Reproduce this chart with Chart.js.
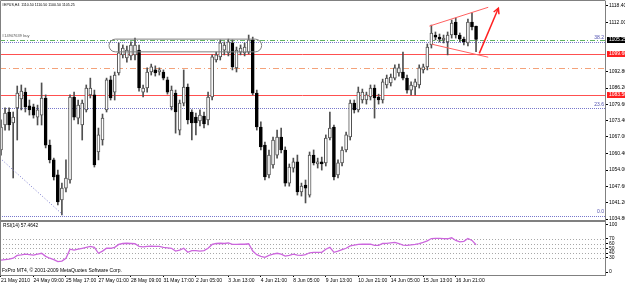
<!DOCTYPE html>
<html lang="en">
<head>
<meta charset="UTF-8">
<title>#EPUS,H4</title>
<script src="https://cdn.jsdelivr.net/npm/chart.js"></script>
<style>
  html, body { margin: 0; padding: 0; background: #fff; }
  #wrap { position: relative; width: 625px; height: 284px; overflow: hidden; background: #fff; }
  #priceChart { position: absolute; left: 0; top: 0; }
  #rsiChart { position: absolute; left: 0; top: 222px; }
</style>
</head>
<body>
<div id="wrap">
  <canvas id="priceChart" width="625" height="222"></canvas>
  <canvas id="rsiChart" width="625" height="62"></canvas>
</div>
<script>
// H4 bars, 21 May 2010 01:00 .. 17 Jun 2010
const opens = [1061.9,1071.7,1076.8,1072.5,1078.4,1081.9,1084.6,1079.2,1078.8,1074.8,
  1075.6,1082.3,1063.8,1058.0,1052.1,1042.3,1046.9,1050.1,1082.7,1074.4,
  1071.7,1077.6,1083.5,1083.5,1061.1,1065.8,1077.6,1089.4,1084.6,1092.1,
  1099.2,1098.0,1098.8,1099.2,1101.1,1084.6,1086.2,1092.5,1093.3,1092.5,
  1092.5,1089.4,1078.8,1084.2,1069.7,1080.3,1086.6,1076.8,1074.8,1073.3,
  1075.2,1073.7,1082.7,1097.2,1098.4,1101.1,1100.0,1103.9,1094.1,1100.3,
  1100.0,1100.3,1105.1,1084.2,1070.9,1063.8,1052.1,1056.0,1059.9,1067.0,
  1061.9,1048.9,1054.8,1057.2,1045.4,1048.1,1044.2,1059.9,1056.4,1057.2,
  1056.8,1066.6,1070.9,1052.1,1056.8,1061.9,1067.0,1080.3,1077.6,1081.5,
  1081.5,1082.7,1086.2,1082.7,1081.5,1087.4,1088.2,1090.1,1092.1,1092.5,
  1090.1,1085.4,1086.6,1087.4,1093.3,1094.5,1103.1,1107.0,1106.2,1105.1,
  1104.3,1107.0,1112.1,1107.0,1105.4,1103.9,1112.1,1110.5];
const highs = [1073.7,1078.4,1078.4,1076.8,1087.0,1087.4,1086.2,1081.5,1079.9,1079.5,
  1088.2,1083.5,1065.8,1058.7,1054.0,1048.9,1058.0,1083.5,1084.6,1081.5,
  1081.5,1087.4,1090.1,1085.4,1070.5,1076.0,1090.1,1090.9,1092.5,1103.9,
  1103.1,1102.7,1104.3,1105.8,1103.1,1087.4,1094.1,1095.6,1094.9,1094.1,
  1093.3,1090.5,1087.0,1085.4,1081.5,1093.3,1087.8,1077.6,1076.4,1077.6,
  1076.8,1084.6,1099.2,1100.3,1105.1,1104.3,1105.4,1105.1,1102.3,1103.1,
  1103.9,1107.0,1106.2,1085.4,1072.9,1065.0,1061.9,1067.0,1069.7,1070.5,
  1063.1,1056.4,1058.7,1059.9,1048.9,1050.1,1061.1,1061.9,1058.7,1059.1,
  1067.8,1076.8,1071.7,1058.0,1063.1,1068.9,1081.5,1081.5,1086.6,1085.8,
  1084.6,1087.4,1087.4,1083.8,1089.7,1091.3,1091.7,1095.3,1095.6,1100.3,
  1091.3,1088.6,1089.7,1095.3,1095.6,1103.5,1110.9,1108.2,1107.4,1107.0,
  1108.2,1112.9,1113.7,1107.8,1106.2,1113.3,1115.7,1110.5];
const lows = [1059.9,1069.7,1069.7,1050.9,1065.8,1077.6,1076.8,1075.6,1074.4,1071.7,
  1071.7,1062.7,1056.8,1050.1,1040.3,1036.4,1045.4,1048.9,1073.7,1072.1,
  1065.8,1076.8,1082.3,1055.2,1058.0,1063.8,1076.8,1081.5,1081.5,1091.3,
  1098.0,1096.4,1097.2,1097.2,1085.0,1082.7,1084.6,1091.3,1090.9,1091.3,
  1089.4,1083.8,1077.6,1068.5,1067.8,1079.2,1072.1,1065.8,1067.8,1071.3,
  1070.5,1071.7,1081.5,1096.4,1097.2,1099.2,1098.8,1093.3,1092.5,1099.2,
  1098.8,1099.6,1083.5,1069.7,1061.9,1050.1,1050.9,1054.8,1058.7,1060.7,
  1047.7,1047.7,1053.2,1044.2,1043.8,1041.1,1043.4,1056.0,1054.8,1054.0,
  1055.6,1065.8,1050.1,1050.9,1055.6,1061.1,1065.8,1076.4,1076.8,1080.3,
  1079.9,1081.5,1074.4,1079.9,1080.3,1086.2,1087.0,1089.4,1090.9,1089.4,
  1084.2,1083.5,1083.5,1086.2,1092.1,1093.3,1101.9,1105.1,1104.3,1103.9,
  1099.2,1105.8,1105.8,1104.3,1103.1,1102.7,1109.0,1100.5];
const closes = [1070.9,1076.4,1071.7,1074.8,1084.2,1085.0,1078.8,1077.6,1075.6,1077.6,
  1082.3,1063.8,1058.0,1051.3,1041.5,1046.9,1050.9,1082.7,1074.8,1079.5,
  1080.3,1086.2,1086.2,1056.0,1067.8,1074.4,1089.4,1082.3,1091.3,1100.0,
  1101.9,1101.1,1103.1,1103.1,1086.2,1086.2,1092.5,1094.5,1092.1,1093.3,
  1090.1,1084.6,1085.4,1076.8,1080.3,1086.6,1073.7,1072.5,1072.5,1075.6,
  1072.1,1082.7,1098.4,1099.2,1103.9,1103.1,1104.3,1094.5,1101.1,1101.9,
  1102.3,1105.1,1084.2,1070.9,1063.1,1051.3,1059.9,1065.8,1067.0,1061.9,
  1048.9,1055.2,1057.2,1045.4,1047.7,1046.9,1059.9,1056.8,1057.2,1056.4,
  1066.6,1070.5,1051.3,1056.8,1061.9,1067.8,1080.3,1077.6,1084.6,1084.6,
  1083.5,1086.2,1082.3,1081.5,1088.6,1090.1,1090.5,1094.1,1094.1,1090.1,
  1085.4,1087.4,1088.6,1094.1,1094.5,1102.3,1107.8,1106.2,1105.4,1105.8,
  1107.0,1111.7,1107.0,1105.4,1104.3,1112.1,1110.2,1105.25];
const rsi = [25,26,27,29,35,36,37.5,36.5,35.5,37.5,
  39.5,33,29,26,22,23,29,48,46,48,
  50,52,54,52,39.5,44,50,50,52,58,
  60,60.5,60,59.5,54,53,54,54.5,54,54,
  52,51,50,44,46,50,41.5,45,45,44,
  45,50,58,60,60.5,60,61.5,58,58,58.5,
  58.5,59.5,44,36.5,33,31,35,37.5,39.5,37.5,
  33.5,35,37.5,35.5,35,36.5,40.5,41.5,41.5,41.5,
  48,52,41.5,44,47,50,55,56.5,58,58.5,
  58.5,58.5,56,56,60,60.5,61.5,62.5,60,56.5,
  56,57,58,60,62.5,65.5,70.5,71,71,70.5,
  70,72,66.5,63.5,64.5,70.5,66.5,57.4642];

const tickBars = [0,8,16,24,32,40,48,56,64,72,80,88,96,104,112];
const tickLabels = ['21 May 2010','24 May 09:00','25 May 17:00','27 May 01:00','28 May 09:00',
  '31 May 17:00','2 Jun 05:00','3 Jun 13:00','4 Jun 21:00','8 Jun 05:00','9 Jun 13:00',
  '10 Jun 21:00','14 Jun 05:00','15 Jun 13:00','16 Jun 21:00'];
const priceTicks = [1118.40,1112.00,1092.80,1086.20,1079.60,1073.40,1067.00,1060.40,1054.00,1047.60,1041.20,1034.80];
const rsiTicks = [0,30,40,50,60,70,100];
const rsiLevels = [30,40,50,60,70];

// objects on the chart (prices)
const lastPrice = 1105.25;
const buyPrice = 1104.9;
const redLevels = [1099.60, 1083.50];
const orangeLevel = 1094.2;
const fibo = [[0.0, 1036.0], [23.6, 1078.2], [38.2, 1104.3]];
const boxBars = [26.6, 64.2], boxPrices = [1105.4, 1100.4];
const trend = [[-0.25, 1058.7], [15.3, 1036.4]];
const flagTop = [[105.5, 1110.5], [120.0, 1117.9]];
const flagBottom = [[106.1, 1103.4], [120.0, 1098.3]];
const arrowPts = [[117.8, 1099.8], [122.5, 1117.5]];

const xMin = -0.246, xMax = 148.76;
const priceMin = 1034.41, priceMax = 1120.36;

Chart.defaults.font.family = "'Liberation Sans', Arial, sans-serif";
Chart.defaults.color = '#000';

const bull = opens.map((o, i) => closes[i] >= o);

function txt(ctx, s, x, y, size, color, align) {
  ctx.save();
  ctx.font = size + "px 'Liberation Sans', Arial, sans-serif";
  ctx.fillStyle = color;
  ctx.textAlign = align || 'left';
  ctx.textBaseline = 'middle';
  ctx.fillText(s, x, y);
  ctx.restore();
}

function seg(ctx, x1, y1, x2, y2, color, width, dash) {
  ctx.save();
  ctx.strokeStyle = color;
  ctx.lineWidth = width;
  ctx.setLineDash(dash || []);
  ctx.beginPath();
  ctx.moveTo(x1, y1);
  ctx.lineTo(x2, y2);
  ctx.stroke();
  ctx.restore();
}

const priceOverlay = {
  id: 'priceOverlay',
  beforeDatasetsDraw(chart) {
    const ctx = chart.ctx, { left, right } = chart.chartArea;
    const Y = v => Math.round(chart.scales.y.getPixelForValue(v)) + 0.5;
    seg(ctx, left, Y(buyPrice), right, Y(buyPrice), '#5fb35f', 1, [5, 2, 1, 2]);
    fibo.forEach(f => seg(ctx, left, Y(f[1]), right, Y(f[1]), '#7777cc', 1, [1, 1]));
    redLevels.forEach(p => seg(ctx, left, Y(p), right, Y(p), '#ff5050', 1));
    seg(ctx, left, Y(orangeLevel), right, Y(orangeLevel), '#f4a27a', 1, [6, 3, 1, 3]);
  },
  afterDatasetsDraw(chart) {
    const ctx = chart.ctx;
    const X = v => chart.scales.x.getPixelForValue(v);
    const Y = v => chart.scales.y.getPixelForValue(v);
    // rounded box around the top zone
    const xl = X(boxBars[0]), xr = X(boxBars[1]), yt = Y(boxPrices[0]), yb = Y(boxPrices[1]);
    const r = (yb - yt) / 2;
    ctx.save();
    ctx.strokeStyle = '#808080';
    ctx.lineWidth = 1;
    ctx.beginPath();
    ctx.moveTo(xl + r, yt);
    ctx.lineTo(xr - r, yt);
    ctx.arc(xr - r, yt + r, r, -Math.PI / 2, Math.PI / 2);
    ctx.lineTo(xl + r, yb);
    ctx.arc(xl + r, yt + r, r, Math.PI / 2, Math.PI * 1.5);
    ctx.stroke();
    ctx.restore();
    // trend line to the low
    seg(ctx, X(trend[0][0]), Y(trend[0][1]), X(trend[1][0]), Y(trend[1][1]), '#7777cc', 1, [1, 2]);
    // flag
    seg(ctx, X(flagTop[0][0]), Y(flagTop[0][1]), X(flagTop[1][0]), Y(flagTop[1][1]), '#ff6060', 1);
    seg(ctx, X(flagBottom[0][0]), Y(flagBottom[0][1]), X(flagBottom[1][0]), Y(flagBottom[1][1]), '#ff6060', 1);
    // arrow
    const x1 = X(arrowPts[0][0]), y1 = Y(arrowPts[0][1]), x2 = X(arrowPts[1][0]), y2 = Y(arrowPts[1][1]);
    seg(ctx, x1, y1, x2, y2, '#ff2020', 1.5);
    const a = Math.atan2(y2 - y1, x2 - x1), L = 6;
    ctx.save();
    ctx.strokeStyle = '#ff2020';
    ctx.lineWidth = 1.5;
    ctx.beginPath();
    ctx.moveTo(x2 - L * Math.cos(a - 0.5), y2 - L * Math.sin(a - 0.5));
    ctx.lineTo(x2, y2);
    ctx.lineTo(x2 - L * Math.cos(a + 0.5), y2 - L * Math.sin(a + 0.5));
    ctx.stroke();
    ctx.restore();
    // texts
    txt(ctx, '#14907639 buy', 2, Y(buyPrice) - 4.5, 4, '#555');
    fibo.forEach(f => txt(ctx, f[0].toFixed(1), chart.chartArea.right - 1, Y(f[1]) - 4, 5, '#5050b0', 'right'));
    txt(ctx, '#EPUS,H4  1110.50 1110.50 1100.50 1105.25', 2, 5, 3.6, '#000');
  },
  afterDraw(chart) {
    const ctx = chart.ctx, { left, right, top, bottom } = chart.chartArea;
    const Y = v => chart.scales.y.getPixelForValue(v);
    ctx.save();
    ctx.strokeStyle = '#808080';
    ctx.lineWidth = 1;
    ctx.beginPath();
    ctx.moveTo(left + 0.5, bottom);
    ctx.lineTo(left + 0.5, 0.5);
    ctx.lineTo(right + 0.5, 0.5);
    ctx.stroke();
    ctx.fillStyle = '#808080';
    ctx.fillRect(left, bottom, right - left + 1, 2);
    // price boxes
    const boxes = [[lastPrice, '#000000'], [redLevels[0], '#ff2020'], [redLevels[1], '#ff2020']];
    boxes.forEach(b => {
      const y = Y(b[0]);
      ctx.fillStyle = b[1];
      ctx.fillRect(right + 2, Math.round(y) - 3, 20, 6);
      txt(ctx, b[0].toFixed(2), right + 4, y, 5, '#fff');
    });
    ctx.restore();
  }
};

new Chart(document.getElementById('priceChart'), {
  type: 'bar',
  data: {
    datasets: [{
      label: 'body',
      data: opens.map((o, i) => ({ x: i, y: [o, closes[i]] })),
      backgroundColor: bull.map(b => b ? '#ffffff' : '#000000'),
      borderColor: bull.map(b => b ? '#505050' : '#000000'),
      borderWidth: 1,
      borderSkipped: false,
      barThickness: 3,
      minBarLength: 1,
      grouped: false,
      order: 0
    }, {
      label: 'wick',
      data: lows.map((l, i) => ({ x: i, y: [l, highs[i]] })),
      backgroundColor: '#505050',
      barThickness: 1,
      grouped: false,
      order: 1
    }]
  },
  options: {
    responsive: false,
    animation: false,
    devicePixelRatio: 1,
    layout: { padding: { left: 0, right: 0, top: 1, bottom: 2 } },
    plugins: { legend: { display: false }, tooltip: { enabled: false } },
    scales: {
      x: { type: 'linear', display: false, min: xMin, max: xMax, offset: false },
      y: {
        position: 'right',
        min: priceMin,
        max: priceMax,
        afterFit: s => { s.width = 20; s.paddingTop = 0; s.paddingBottom = 0; },
        afterBuildTicks: s => { s.ticks = priceTicks.map(v => ({ value: v })); },
        grid: { drawOnChartArea: false, tickLength: 3, color: '#000' },
        border: { color: '#808080' },
        ticks: { font: { size: 5 }, padding: 1, autoSkip: false, callback: v => v.toFixed(2) }
      }
    }
  },
  plugins: [priceOverlay]
});

const rsiOverlay = {
  id: 'rsiOverlay',
  beforeDatasetsDraw(chart) {
    const ctx = chart.ctx, { left, right } = chart.chartArea;
    rsiLevels.forEach(l => {
      const y = Math.round(chart.scales.y.getPixelForValue(l)) + 0.5;
      seg(ctx, left, y, right, y, '#a8a8a8', 1, [1, 2]);
    });
  },
  afterDraw(chart) {
    const ctx = chart.ctx, { left, right, top, bottom } = chart.chartArea;
    seg(ctx, left + 0.5, top, left + 0.5, bottom, '#808080', 1);
    txt(ctx, 'RSI(14) ' + rsi[rsi.length - 1].toFixed(4), 3, 4, 4.8, '#000');
    txt(ctx, 'FxPro MT4, \u00a9 2001-2009 MetaQuotes Software Corp.', 2, bottom - 4, 5, '#000');
  }
};

new Chart(document.getElementById('rsiChart'), {
  type: 'line',
  data: {
    datasets: [{
      label: 'RSI(14)',
      data: rsi.map((v, i) => ({ x: i, y: v })),
      borderColor: '#cc66dd',
      borderWidth: 1.3,
      pointRadius: 0,
      tension: 0
    }]
  },
  options: {
    responsive: false,
    animation: false,
    devicePixelRatio: 1,
    layout: { padding: 0 },
    plugins: { legend: { display: false }, tooltip: { enabled: false } },
    scales: {
      x: {
        type: 'linear',
        min: xMin,
        max: xMax,
        offset: false,
        afterFit: s => { s.height = 9; s.paddingLeft = 0; s.paddingRight = 0; },
        afterBuildTicks: s => { s.ticks = tickBars.map(v => ({ value: v })); },
        grid: { drawOnChartArea: false, tickLength: 2, color: '#000' },
        border: { color: '#808080' },
        ticks: {
          align: 'start', maxRotation: 0, autoSkip: false, padding: 1,
          font: { size: 5 },
          callback: (v, i) => tickLabels[i]
        }
      },
      y: {
        position: 'right',
        min: -6.3,
        max: 105.3,
        afterFit: s => { s.width = 20; s.paddingTop = 0; s.paddingBottom = 0; },
        afterBuildTicks: s => { s.ticks = rsiTicks.map(v => ({ value: v })); },
        grid: { drawOnChartArea: false, tickLength: 3, color: '#000' },
        border: { color: '#808080' },
        ticks: { font: { size: 5 }, padding: 1, autoSkip: false }
      }
    }
  },
  plugins: [rsiOverlay]
});
</script>
</body>
</html>
